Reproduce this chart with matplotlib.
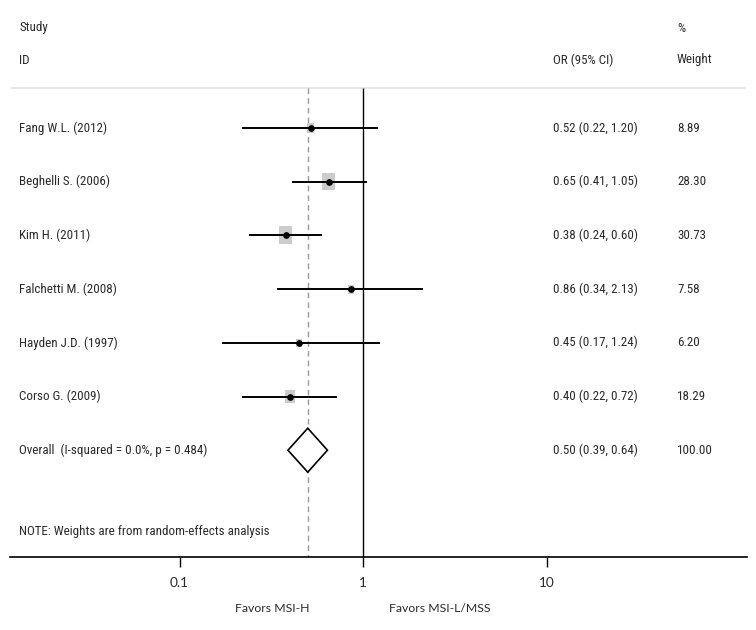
import matplotlib
matplotlib.use("Agg")
import matplotlib.pyplot as plt
import matplotlib.transforms as mtransforms
from matplotlib import font_manager
from matplotlib.patches import Polygon
from matplotlib.path import Path

# data
studies = ["Fang W.L. (2012)", "Beghelli S. (2006)", "Kim H. (2011)",
           "Falchetti M. (2008)", "Hayden J.D. (1997)", "Corso G. (2009)"]
odds = [0.52, 0.65, 0.38, 0.86, 0.45, 0.40]
ci_low = [0.22, 0.41, 0.24, 0.34, 0.17, 0.22]
ci_high = [1.20, 1.05, 0.60, 2.13, 1.24, 0.72]
weights = [8.89, 28.30, 30.73, 7.58, 6.20, 18.29]

overall_label = "Overall  (I-squared = 0.0%, p = 0.484)"
overall_or = 0.50
overall_low = 0.39
overall_high = 0.64
overall_weight = 100.00

tick_vals = [0.1, 1, 10]
tick_labels = ["0.1", "1", "10"]

# pick a condensed face if one is installed
fonts = font_manager.fontManager.ttflist
names = {f.name for f in fonts}
txt = dict(family=["Roboto", "DejaVu Sans"], fontstretch="condensed", fontsize=9.4)
for cand in ["Liberation Sans Narrow", "Roboto Condensed", "Open Sans Condensed",
             "DejaVu Sans Condensed"]:
    if cand in names:
        txt = dict(family=[cand, "DejaVu Sans"], fontsize=9.4)
        break
txt["color"] = "#2a2a2a"

calib = dict(family=["Lato", "DejaVu Sans"], fontsize=8.8, color="#2a2a2a")

W, H = 756, 630
fig = plt.figure(figsize=(W / 100, H / 100), dpi=100)
ax = fig.add_axes([0, 0, 1, 1])
ax.set_xscale("log")
# 1 at x=363 px, one decade = 183.5 px
ax.set_xlim(10 ** (-363 / 183.5), 10 ** ((W - 363) / 183.5))
ax.set_ylim(H, 0)
ax.axis("off")

fx = mtransforms.blended_transform_factory(ax.transAxes, ax.transData)

row_top, row_step = 128, 53.7
ys = [row_top + i * row_step for i in range(len(studies) + 1)]
y_axis = 557
y_top = 88

# header
ax.text(19 / W, 28, "Study", transform=fx, va="center", **txt)
ax.text(19 / W, 60, "ID", transform=fx, va="center", **txt)
ax.text(553 / W, 60, "OR (95% CI)", transform=fx, va="center", **txt)
ax.text(677 / W, 28, "%", transform=fx, va="center", **txt)
ax.text(677 / W, 60, "Weight", transform=fx, va="center", **txt)

# light separator under header
ax.plot([12 / W, 745 / W], [y_top, y_top], transform=fx, color="#e2e2e2", lw=1.2)

# reference lines
ax.vlines(1, y_top, y_axis, color="black", lw=1.0)
ax.vlines(overall_or, y_top, y_axis, color="#999999", lw=1.0, linestyles=(0, (4, 3)))

# study rows
rect = Path([(-0.36, -0.5), (0.36, -0.5), (0.36, 0.5), (-0.36, 0.5), (-0.36, -0.5)],
            [Path.MOVETO, Path.LINETO, Path.LINETO, Path.LINETO, Path.CLOSEPOLY])
for i, name in enumerate(studies):
    y = ys[i]
    ax.scatter([odds[i]], [y], marker=rect, s=[5.5 * weights[i]], color="#cccccc",
               edgecolors="none", zorder=2)
    ax.hlines(y, ci_low[i], ci_high[i], color="black", lw=1.4, zorder=3)
    ax.plot([odds[i]], [y], marker="o", ms=3.8, color="black", zorder=4)
    ax.text(19 / W, y, name, transform=fx, va="center", **txt)
    ax.text(553 / W, y, f"{odds[i]:.2f} ({ci_low[i]:.2f}, {ci_high[i]:.2f})",
            transform=fx, va="center", **txt)
    ax.text(677 / W, y, f"{weights[i]:.2f}", transform=fx, va="center", **txt)

# overall diamond
yo = ys[-1]
diamond = Polygon([(overall_low, yo), (overall_or, yo - 22), (overall_high, yo),
                   (overall_or, yo + 22)], closed=True, facecolor="white",
                  edgecolor="black", lw=1.2, zorder=3)
ax.add_patch(diamond)
ax.text(19 / W, yo, overall_label, transform=fx, va="center", **txt)
ax.text(553 / W, yo, f"{overall_or:.2f} ({overall_low:.2f}, {overall_high:.2f})",
        transform=fx, va="center", **txt)
ax.text(677 / W, yo, f"{overall_weight:.2f}", transform=fx, va="center", **txt)

ax.text(19 / W, 531, "NOTE: Weights are from random-effects analysis", transform=fx,
        va="center", **txt)

# x axis
ax.plot([10 / W, 747 / W], [y_axis, y_axis], transform=fx, color="black", lw=1.2)
ax.vlines(tick_vals, y_axis, y_axis + 10, color="black", lw=1.0)
for v, lab in zip(tick_vals, tick_labels):
    ax.text(v, 583, lab, ha="center", va="center", family=calib["family"],
            fontsize=9.8, color=calib["color"])

ax.text(272 / W, 609, "Favors MSI-H", transform=fx, ha="center", va="center", **calib)
ax.text(440 / W, 609, "Favors MSI-L/MSS", transform=fx, ha="center", va="center", **calib)

fig.savefig("out.png", dpi=100, facecolor="white")
